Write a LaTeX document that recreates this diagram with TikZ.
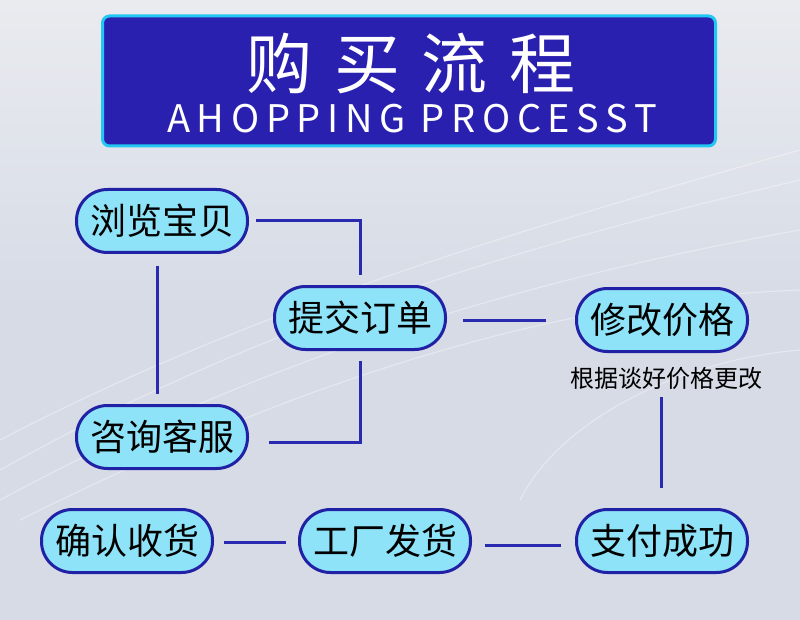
\documentclass[tikz,border=0pt]{standalone}
\usepackage{fontspec}
\setmainfont{Noto Sans CJK SC}
\newfontfamily\cjk{Noto Sans CJK SC}
\newfontfamily\cjkspaced[LetterSpace=33]{Noto Sans CJK SC}
\newfontfamily\enspaced[LetterSpace=17.5]{Noto Sans CJK SC}
\definecolor{bgtop}{HTML}{E9EBEF}
\definecolor{bgmid}{HTML}{D6DBE6}
\definecolor{bgbot}{HTML}{E2E5EB}
\definecolor{titlefill}{HTML}{2A20B0}
\definecolor{titleedge}{HTML}{22C8F2}
\definecolor{pillfill}{HTML}{8EE3F8}
\definecolor{pilledge}{HTML}{2121A6}
\definecolor{connc}{HTML}{2A2AB0}
\begin{document}
\begin{tikzpicture}[x=1pt,y=-1pt,
  pill/.style={draw=pilledge, line width=3pt, fill=pillfill, rounded corners=31pt,
    minimum width=171pt, minimum height=63pt, inner sep=0pt,
    font=\cjk\fontsize{36}{36}\selectfont, text=black},
  conn/.style={draw=connc, line width=3pt},
  note/.style={font=\cjk\fontsize{24}{24}\selectfont, text=black, inner sep=0pt}]
% background
\fill[top color=bgtop, bottom color=bgmid, middle color=bgmid] (0,0) rectangle (800,620);
\useasboundingbox (0,0) rectangle (800,620);
\begin{scope}[white, opacity=0.35, line width=1.2pt]
  \draw (0,470) .. controls (250,330) and (500,250) .. (800,180);
  \draw (0,500) .. controls (260,360) and (520,280) .. (800,230);
  \draw (20,520) .. controls (280,390) and (540,300) .. (800,290);
  \draw (0,440) .. controls (230,320) and (480,240) .. (800,150);
  \draw (520,500) .. controls (560,420) and (680,360) .. (800,350);
\end{scope}
% title
\node[draw=titleedge, line width=3pt, fill=titlefill, rounded corners=7pt,
  minimum width=613pt, minimum height=130pt, inner sep=0pt] (title) at (409,81) {};
\node[text=white, inner sep=0pt, font=\cjkspaced\fontsize{66}{66}\selectfont] (tcn) at (411,63) {购买流程};
\node[text=white, inner sep=0pt, font=\enspaced\fontsize{38}{38}\selectfont] (ten) at (412,119) {AHOPPING PROCESST};
% nodes
\node[pill] (liulan) at (162,221) {浏览宝贝};
\node[pill] (tijiao) at (360,318) {提交订单};
\node[pill] (xiugai) at (662,320) {修改价格};
\node[pill] (zixun) at (162,437) {咨询客服};
\node[pill] (queren) at (127,541) {确认收货};
\node[pill] (gongchang) at (385,541) {工厂发货};
\node[pill] (zhifu) at (662,541) {支付成功};
\node[note] (note) at (666,378) {根据谈好价格更改};
% connectors
\draw[conn, shorten <=7pt, shorten >=10pt] (liulan.east) -| (tijiao.north);
\draw[conn, shorten <=12pt, shorten >=10pt] ([xshift=-5pt]liulan.south) -- ([xshift=-5pt]zixun.north);
\draw[conn, shorten <=10pt, shorten >=20pt] (tijiao.south) |- ([yshift=-5pt]zixun.east);
\draw[conn, shorten <=16pt, shorten >=29pt] ([yshift=-2pt]tijiao.east) -- (xiugai.west);
\draw[conn, shorten <=8pt, shorten >=20pt] ([xshift=-5pt]note.south) -- ([xshift=-1pt]zhifu.north);
\draw[conn, shorten <=14pt, shorten >=13pt] ([yshift=-4pt]zhifu.west) -- ([yshift=-4pt]gongchang.east);
\draw[conn, shorten <=12pt, shorten >=10pt] ([yshift=-1pt]gongchang.west) -- ([yshift=-1pt]queren.east);
\end{tikzpicture}
\end{document}
